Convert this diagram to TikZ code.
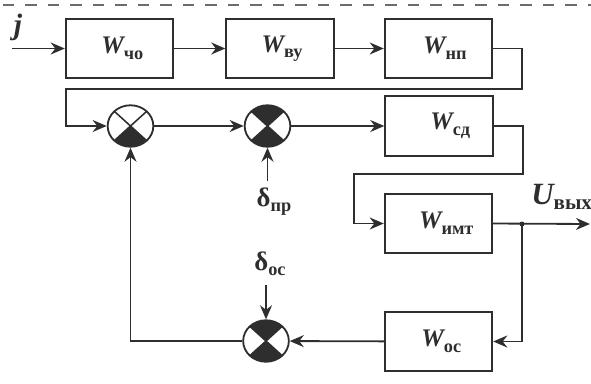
\documentclass[tikz,border=0pt]{standalone}
\usepackage{fontspec}
\setmainfont{Liberation Serif}
\usetikzlibrary{arrows.meta,calc,positioning,shapes.geometric}
\definecolor{ink}{gray}{0.18}
\newcommand{\Wsub}[2][0pt]{\hspace*{#1}{\fontsize{18}{18}\selectfont\bfseries\itshape W}\raisebox{-4pt}{\fontsize{13}{13}\selectfont\bfseries #2}}
\newcommand{\dsub}[1]{{\fontsize{19}{19}\selectfont\bfseries δ}\raisebox{-3.5pt}{\fontsize{13}{13}\selectfont\bfseries #1}}
\tikzset{blk/.style={draw=ink,line width=1.3pt,minimum width=76.5pt,minimum height=42.5pt,inner sep=0pt,text=ink},
  sumj/.style={draw=ink,line width=1.3pt,ellipse,minimum width=32.5pt,minimum height=29.5pt,inner sep=0pt,fill=white},
  sumlow/.style={sumj,path picture={
    \fill[ink] (path picture bounding box.center) -- (path picture bounding box.south west) -- (path picture bounding box.south east) -- cycle;
    \draw[ink,line width=1.1pt] (path picture bounding box.south west) -- (path picture bounding box.north east)
      (path picture bounding box.north west) -- (path picture bounding box.south east);}},
  sumboth/.style={sumj,path picture={
    \fill[ink] (path picture bounding box.center) -- (path picture bounding box.south west) -- (path picture bounding box.south east) -- cycle;
    \fill[ink] (path picture bounding box.center) -- (path picture bounding box.north west) -- (path picture bounding box.north east) -- cycle;
    \draw[ink,line width=1.1pt] (path picture bounding box.south west) -- (path picture bounding box.north east)
      (path picture bounding box.north west) -- (path picture bounding box.south east);}},
  arr/.style={-{Stealth[length=10pt,width=8.5pt]},line width=1.3pt,draw=ink},
  lab/.style={text=ink,inner sep=0pt}}
\begin{document}
\begin{tikzpicture}[x=0.025cm,y=-0.025cm]
\useasboundingbox (0,0) rectangle (591,383);
\draw[gray!85!black,line width=1.3pt,dash pattern=on 8pt off 8pt] (3,5) -- (591,5);
\node[blk] (wcho) at (119.5,48.5) {\Wsub[4pt]{чо}};
\node[blk] (wvu) at (280,48.5) {\Wsub[3pt]{ву}};
\node[blk] (wnp) at (438.5,48.5) {\Wsub[9pt]{нп}};
\node[blk] (wsd) at (439,126) {\Wsub[16pt]{сд}};
\node[blk] (wimt) at (438.5,223.5) {\Wsub[11pt]{имт}};
\node[blk] (wos) at (438.5,341.5) {\Wsub[4pt]{ос}};
\node[sumlow] (sa) at (130.5,126) {};
\node[sumboth] (sb) at (267.5,126) {};
\node[sumboth] (sc) at (266,341) {};
\coordinate (inj) at (12,48.5);
\coordinate (outu) at (590,224);
\coordinate (tap) at (522,224);
\coordinate (dprend) at (267.5,181);
\coordinate (dosend) at (266,285);
\node[lab,font=\fontsize{21}{21}\selectfont\bfseries\itshape] (lj) at (18,27) {j};
\node[lab,font=\fontsize{22}{22}\selectfont\bfseries\itshape,anchor=west] (lu) at (531,197) {U\raisebox{-4pt}{\fontsize{15}{15}\selectfont\bfseries\upshape вых}};
\node[lab] (dpr) at (274,202) {\dsub{пр}};
\node[lab] (dos) at (270,264) {\dsub{ос}};
\draw[arr] (inj) -- (wcho);
\draw[arr] (wcho) -- (wvu);
\draw[arr] (wvu) -- (wnp);
\draw[arr] (wnp.east) -- ++(29,0) |- (66,89) |- (sa.west);
\draw[arr] (sa) -- (sb);
\draw[arr] (sb) -- (wsd);
\draw[arr] (wsd.east) -- ++(29,0) |- (354,174) |- (wimt.west);
\draw[arr] (wimt.east) -- (outu);
\fill[ink] (tap) circle (2.5);
\draw[arr] (tap) |- (wos.east);
\draw[arr] (wos) -- (sc);
\draw[arr] (sc) -| (sa);
\draw[arr] (dprend) -- (sb);
\draw[arr] (dosend) -- (sc);
\end{tikzpicture}
\end{document}
